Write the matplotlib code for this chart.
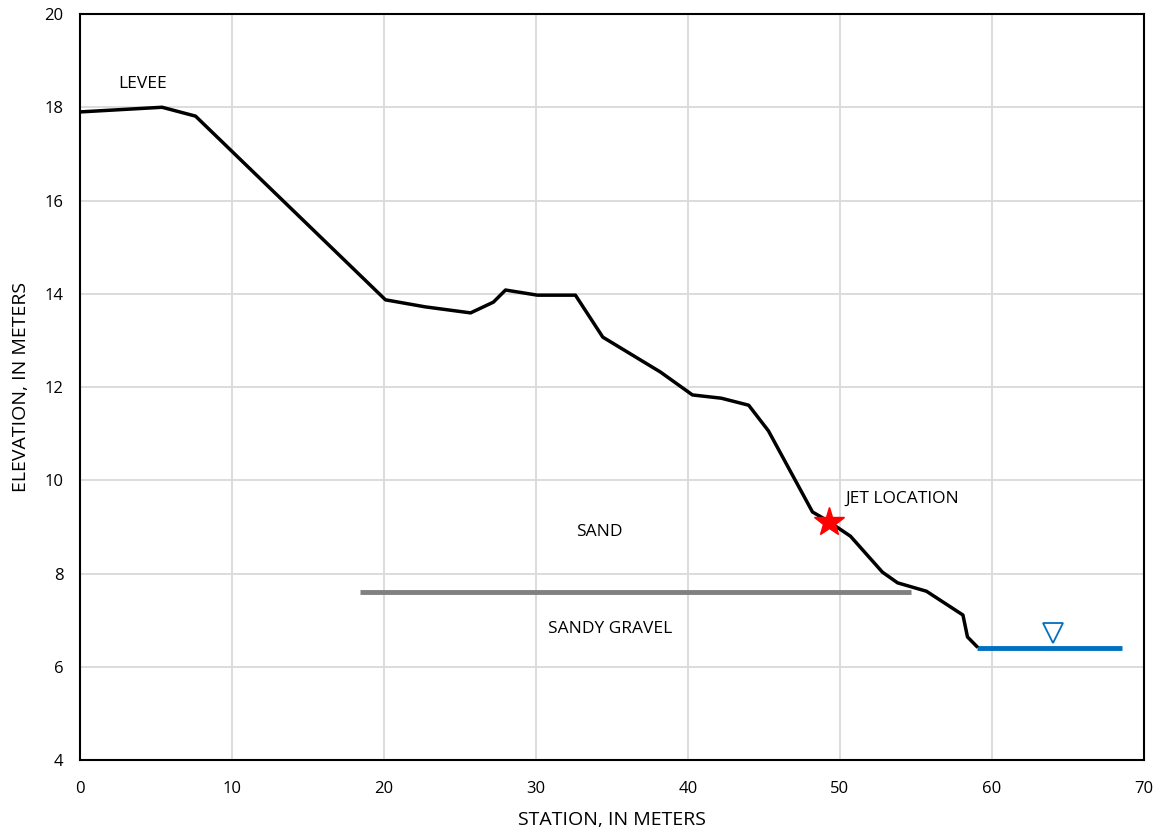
import numpy as np
import matplotlib.pyplot as plt

plt.rcParams['font.family'] = ['Open Sans', 'DejaVu Sans']

# ground profile
station = [0.0, 5.4, 7.6, 20.1, 22.7, 25.7, 27.2, 28.0, 30.1, 32.6, 34.4,
           38.2, 40.3, 42.2, 44.0, 45.3, 48.2, 49.2, 50.7, 52.8, 53.8,
           55.7, 58.1, 58.4, 59.0]
elevation = [17.9, 18.0, 17.81, 13.87, 13.72, 13.59, 13.82, 14.08, 13.97,
             13.97, 13.07, 12.32, 11.83, 11.76, 11.61, 11.06, 9.32, 9.13,
             8.80, 8.03, 7.80, 7.62, 7.11, 6.64, 6.44]

# sand / sandy gravel contact
contact_x = [18.4, 54.7]
contact_y = [7.6, 7.6]

# water surface
water_x = [59.0, 68.6]
water_y = [6.4, 6.4]
wse_marker = (64.0, 6.72)

jet = (49.3, 9.10)

fig = plt.figure(figsize=(11.6, 8.34), dpi=100)
ax = fig.add_axes([0.069, 0.0887, 0.917, 0.8945])

ax.plot(contact_x, contact_y, color="#808080", lw=3.5, solid_capstyle="butt", zorder=3)
ax.plot(station, elevation, color="black", lw=2.5, zorder=4)
ax.plot(water_x, water_y, color="#0070C0", lw=3.5, solid_capstyle="butt", zorder=3)
ax.plot(*wse_marker, marker="v", ms=15, mfc="white", mec="#0070C0", mew=1.3, zorder=5)
ax.plot(*jet, marker="*", ms=22, color="red", mec="red", zorder=6)

fs = 12.5
ax.text(4.1, 18.5, "LEVEE", fontsize=fs, ha="center", va="center")
ax.text(34.2, 8.9, "SAND", fontsize=fs, ha="center", va="center")
ax.text(54.1, 9.6, "JET LOCATION", fontsize=fs, ha="center", va="center")
ax.text(34.9, 6.8, "SANDY GRAVEL", fontsize=fs, ha="center", va="center")

ax.set_xlim(0, 70)
ax.set_ylim(4, 20)
ax.set_xticks(np.arange(0, 71, 10))
ax.set_yticks(np.arange(4, 21, 2))
ax.grid(True, color="#d9d9d9", lw=1.3)
ax.set_axisbelow(True)
ax.tick_params(length=0, labelsize=12)
ax.tick_params(axis="x", pad=15)
ax.tick_params(axis="y", pad=12)
for s in ax.spines.values():
    s.set_linewidth(1.5)
    s.set_color("black")

ax.set_xlabel("STATION, IN METERS", fontsize=14, labelpad=10)
ax.set_ylabel("ELEVATION, IN METERS", fontsize=14, labelpad=10)

fig.savefig("out.png", dpi=100)
